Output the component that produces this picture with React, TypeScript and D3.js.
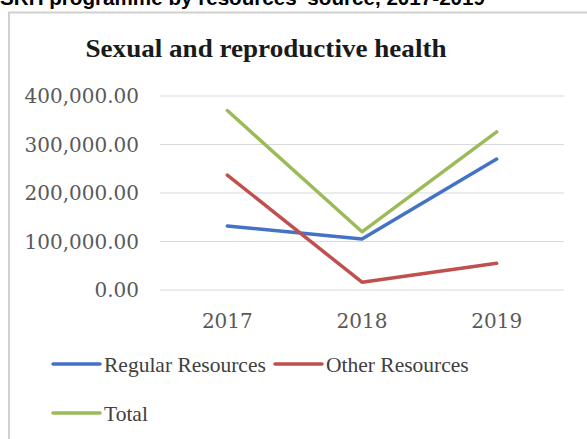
import React from "react";
import * as d3 from "d3";

const years = ["2017", "2018", "2019"];
const regularResources = [132000, 105000, 270000];
const otherResources = [237000, 16000, 55000];
const totalResources = [370000, 120000, 326000];
const yTicks = [0, 100000, 200000, 300000, 400000];

const series = [
  { name: "Regular Resources", color: "#4472C4", values: regularResources },
  { name: "Other Resources", color: "#C0504D", values: otherResources },
  { name: "Total", color: "#9BBB59", values: totalResources },
];

const W = 587;
const H = 439;

export default function App() {
  const x = d3.scalePoint<string>().domain(years).range([160, 564]).padding(0.5);
  const y = d3.scaleLinear().domain([0, 400000]).range([290, 96]);
  const fmt = d3.format(",.2f");
  const line = d3
    .line<number>()
    .x((_, i) => x(years[i]) as number)
    .y((d) => y(d));

  const legendPos = [
    { lx: 53, ly: 364 },
    { lx: 275, ly: 364 },
    { lx: 53, ly: 413 },
  ];

  return (
    <svg
      width={W}
      height={H}
      style={{ position: "absolute", left: 0, top: 0, background: "#fff" }}
    >
      <text
        x={0}
        y={5}
        fontFamily="Liberation Sans, Arial, sans-serif"
        fontWeight="bold"
        fontSize={20}
        textLength={485}
        lengthAdjust="spacingAndGlyphs"
        fill="#000"
      >
        SRH programme by resources' source, 2017-2019
      </text>
      <rect x={9} y={12.5} width={W + 20} height={H + 20} fill="#fff" stroke="#d0d0d0" strokeWidth={2} />
      <text
        x={266}
        y={57}
        textAnchor="middle"
        fontFamily="Liberation Serif, serif"
        fontWeight="bold"
        fontSize={26}
        textLength={361}
        lengthAdjust="spacingAndGlyphs"
        fill="#1a1a1a"
      >
        Sexual and reproductive health
      </text>
      {yTicks.map((t) => (
        <g key={t}>
          <line x1={160} x2={564} y1={y(t)} y2={y(t)} stroke="#d9d9d9" strokeWidth={1} />
          <text
            x={139}
            y={y(t)}
            dy="0.35em"
            textAnchor="end"
            fontFamily="DejaVu Serif, serif"
            fontSize={20}
            fill="#595959"
          >
            {fmt(t)}
          </text>
        </g>
      ))}
      {years.map((yr) => (
        <text
          key={yr}
          x={x(yr)}
          y={321}
          dy="0.35em"
          textAnchor="middle"
          fontFamily="DejaVu Serif, serif"
          fontSize={20}
          fill="#595959"
        >
          {yr}
        </text>
      ))}
      {series.map((s) => (
        <path
          key={s.name}
          d={line(s.values) || ""}
          fill="none"
          stroke={s.color}
          strokeWidth={3.5}
          strokeLinejoin="round"
          strokeLinecap="round"
        />
      ))}
      {series.map((s, i) => (
        <g key={s.name}>
          <line
            x1={legendPos[i].lx}
            x2={legendPos[i].lx + 47}
            y1={legendPos[i].ly}
            y2={legendPos[i].ly}
            stroke={s.color}
            strokeWidth={3.5}
            strokeLinecap="round"
          />
          <text
            x={legendPos[i].lx + 51}
            y={legendPos[i].ly}
            dy="0.35em"
            fontFamily="Liberation Serif, serif"
            fontSize={21.5}
            fill="#404040"
          >
            {s.name}
          </text>
        </g>
      ))}
    </svg>
  );
}
